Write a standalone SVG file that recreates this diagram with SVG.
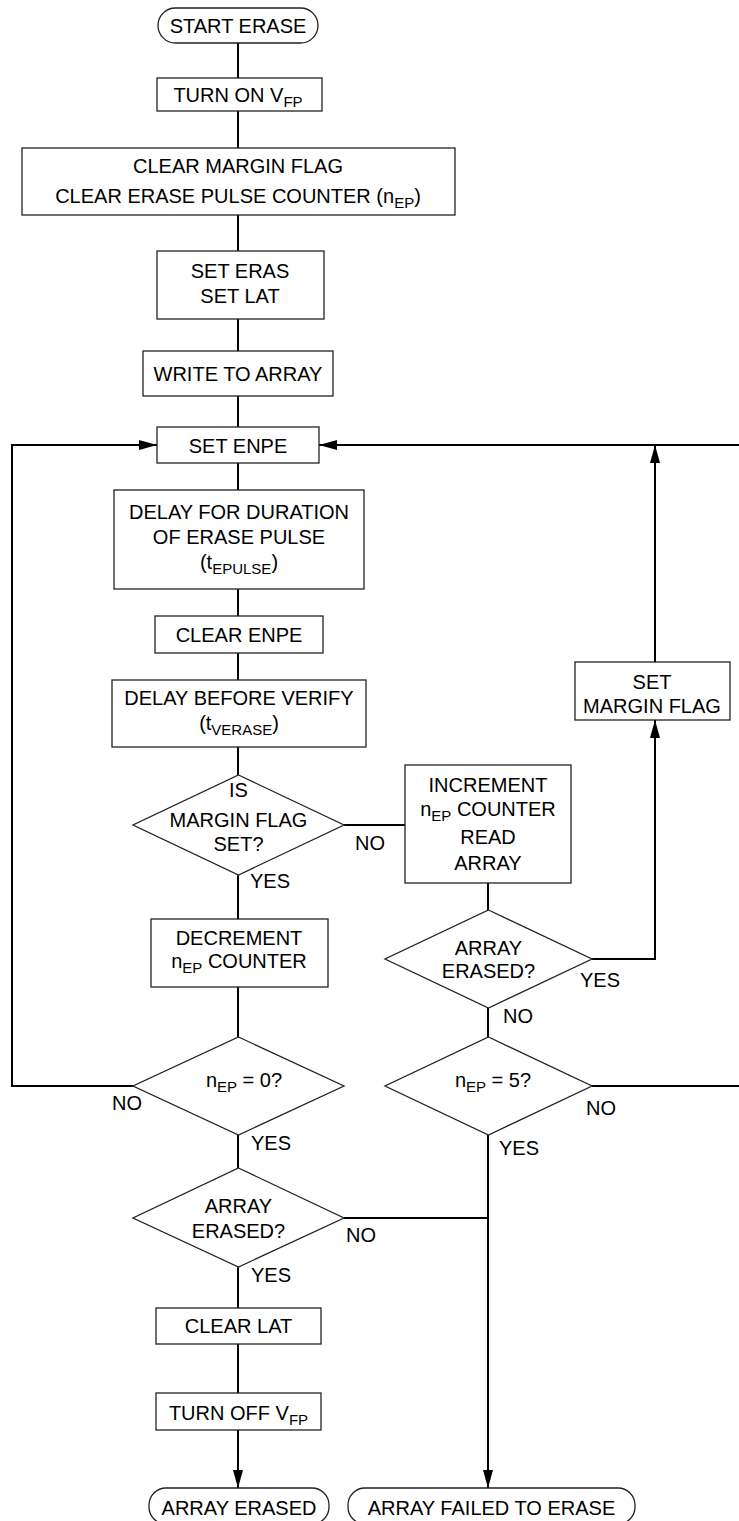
<svg xmlns="http://www.w3.org/2000/svg" width="739" height="1521" viewBox="0 0 739 1521">
<defs>
<style>
.box{fill:#fff;stroke:#222;stroke-width:1.3}
.ln{fill:none;stroke:#000;stroke-width:2}
text{font-family:"Liberation Sans",Arial,sans-serif;font-size:20px;fill:#000}
.c{text-anchor:middle}
.sub{font-size:15px}
</style>
<marker id="ah" markerUnits="userSpaceOnUse" markerWidth="18" markerHeight="10" refX="18" refY="5" orient="auto">
<path d="M0,0 L18,5 L0,10 z" fill="#000"/>
</marker>
</defs>
<rect width="739" height="1521" fill="#fff"/>
<g id="connectors">
<path class="ln" d="M238,43V78M238,111V148M238,215V251M238,319V351M238,396V427M238,463V490M238,589V616M238,653V680M238,747V775M238,875V919M238,987V1037M238,1135V1168M238,1267V1308M238,1344V1393"/>
<path class="ln" d="M238,1430V1488" marker-end="url(#ah)"/>
<path class="ln" d="M344,825H405"/>
<path class="ln" d="M488,883V910M488,1008V1037"/>
<path class="ln" d="M488,1135V1488" marker-end="url(#ah)"/>
<path class="ln" d="M344,1218H488"/>
<path class="ln" d="M592,959H655V720" marker-end="url(#ah)"/>
<path class="ln" d="M655,662V445" marker-end="url(#ah)"/>
<path class="ln" d="M739,445H319" marker-end="url(#ah)"/>
<path class="ln" d="M592,1086H739"/>
<path class="ln" d="M133,1086H12V445H157" marker-end="url(#ah)"/>
</g>
<g id="start"><rect class="box" x="158" y="8" width="160" height="35" rx="17.5"/><text class="c" x="238" y="33">START ERASE</text></g>
<g id="turnon"><rect class="box" x="157" y="78" width="165" height="33"/><text class="c" x="238" y="102">TURN ON V<tspan class="sub" dy="4.5">FP</tspan></text></g>
<g id="clearflag"><rect class="box" x="22" y="148" width="433" height="67"/><text class="c" x="238" y="173">CLEAR MARGIN FLAG</text><text class="c" x="238" y="203">CLEAR ERASE PULSE COUNTER (n<tspan class="sub" dy="4.5">EP</tspan><tspan dy="-4.5">)</tspan></text></g>
<g id="seteras"><rect class="box" x="157" y="251" width="167" height="68"/><text class="c" x="240" y="278">SET ERAS</text><text class="c" x="240" y="303">SET LAT</text></g>
<g id="write"><rect class="box" x="143" y="351" width="190" height="45"/><text class="c" x="238" y="381">WRITE TO ARRAY</text></g>
<g id="setenpe"><rect class="box" x="157" y="427" width="162" height="36"/><text class="c" x="238" y="453">SET ENPE</text></g>
<g id="delaypulse"><rect class="box" x="114" y="490" width="250" height="99"/><text class="c" x="239" y="519">DELAY FOR DURATION</text><text class="c" x="239" y="544">OF ERASE PULSE</text><text class="c" x="239" y="569">(t<tspan class="sub" dy="4.5">EPULSE</tspan><tspan dy="-4.5">)</tspan></text></g>
<g id="clearenpe"><rect class="box" x="155" y="616" width="168" height="37"/><text class="c" x="239" y="642">CLEAR ENPE</text></g>
<g id="delayverify"><rect class="box" x="112" y="680" width="254" height="67"/><text class="c" x="239" y="705">DELAY BEFORE VERIFY</text><text class="c" x="239" y="730">(t<tspan class="sub" dy="4.5">VERASE</tspan><tspan dy="-4.5">)</tspan></text></g>
<g id="ismargin"><polygon class="box" points="238.5,775 344,825 238.5,875 133,825"/><text class="c" x="238.5" y="797">IS</text><text class="c" x="238.5" y="827">MARGIN FLAG</text><text class="c" x="238.5" y="851">SET?</text><text x="355" y="850">NO</text><text x="250" y="888">YES</text></g>
<g id="increment"><rect class="box" x="405" y="765" width="166" height="118"/><text class="c" x="488" y="792">INCREMENT</text><text class="c" x="488" y="816">n<tspan class="sub" dy="4.5">EP</tspan><tspan dy="-4.5"> COUNTER</tspan></text><text class="c" x="488" y="844">READ</text><text class="c" x="488" y="870">ARRAY</text></g>
<g id="setmargin"><rect class="box" x="575" y="662" width="155" height="58"/><text class="c" x="652" y="689">SET</text><text class="c" x="652" y="713">MARGIN FLAG</text></g>
<g id="decrement"><rect class="box" x="151" y="919" width="177" height="68"/><text class="c" x="239" y="945">DECREMENT</text><text class="c" x="239" y="968">n<tspan class="sub" dy="4.5">EP</tspan><tspan dy="-4.5"> COUNTER</tspan></text></g>
<g id="erased1"><polygon class="box" points="488.5,910 592,959 488.5,1008 385,959"/><text class="c" x="488.5" y="955">ARRAY</text><text class="c" x="488.5" y="978">ERASED?</text><text x="580" y="987">YES</text><text x="503" y="1023">NO</text></g>
<g id="nep0"><polygon class="box" points="238.5,1037 344,1086 238.5,1135 133,1086"/><text class="c" x="244" y="1087">n<tspan class="sub" dy="4.5">EP</tspan><tspan dy="-4.5"> = 0?</tspan></text><text x="112" y="1110">NO</text><text x="251" y="1150">YES</text></g>
<g id="nep5"><polygon class="box" points="488.5,1037 592,1086 488.5,1135 385,1086"/><text class="c" x="493" y="1087">n<tspan class="sub" dy="4.5">EP</tspan><tspan dy="-4.5"> = 5?</tspan></text><text x="586" y="1115">NO</text><text x="499" y="1155">YES</text></g>
<g id="erased2"><polygon class="box" points="238.5,1168 344,1218 238.5,1267 133,1218"/><text class="c" x="238.5" y="1213">ARRAY</text><text class="c" x="238.5" y="1238">ERASED?</text><text x="346" y="1242">NO</text><text x="251" y="1282">YES</text></g>
<g id="clearlat"><rect class="box" x="156" y="1308" width="165" height="36"/><text class="c" x="238.5" y="1333">CLEAR LAT</text></g>
<g id="turnoff"><rect class="box" x="156" y="1393" width="165" height="37"/><text class="c" x="238.5" y="1420">TURN OFF V<tspan class="sub" dy="4.5">FP</tspan></text></g>
<g id="endok"><rect class="box" x="149" y="1488" width="180" height="36" rx="17"/><text class="c" x="239" y="1515">ARRAY ERASED</text></g>
<g id="endfail"><rect class="box" x="348" y="1488" width="287" height="36" rx="17"/><text class="c" x="491.5" y="1515">ARRAY FAILED TO ERASE</text></g>
</svg>
